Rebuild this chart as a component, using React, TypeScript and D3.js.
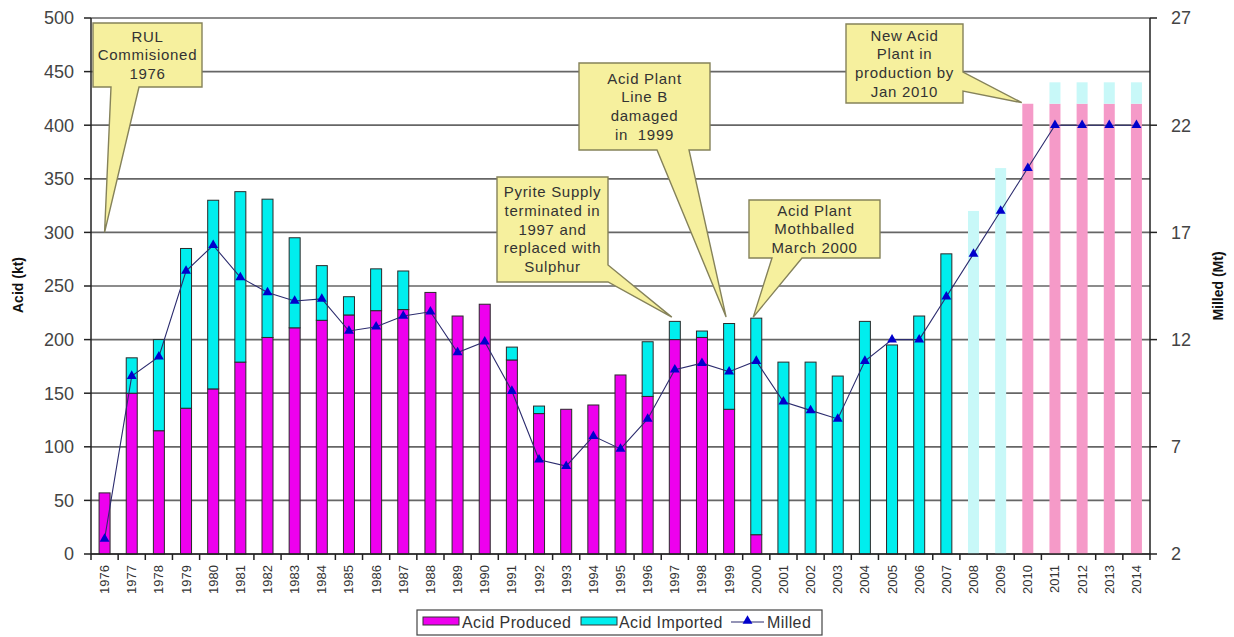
import React, { useRef, useEffect } from "react";
import * as d3 from "d3";

// categories
const years = [
  "1976", "1977", "1978", "1979", "1980", "1981", "1982", "1983", "1984", "1985",
  "1986", "1987", "1988", "1989", "1990", "1991", "1992", "1993", "1994", "1995",
  "1996", "1997", "1998", "1999", "2000", "2001", "2002", "2003", "2004", "2005",
  "2006", "2007", "2008", "2009", "2010", "2011", "2012", "2013", "2014"
];
// first projected year (drawn pale)
const forecastFrom = "2008";

// Acid produced (kt)
const produced = [
  57, 150, 115, 136, 154, 179, 202, 211, 218, 223,
  227, 228, 244, 222, 233, 181, 131, 135, 139, 167,
  147, 200, 202, 135, 18, 0, 0, 0, 0, 0,
  0, 0, 0, 0, 420, 420, 420, 420, 420
];
// Acid imported (kt), stacked on top of produced
const imported = [
  0, 33, 85, 149, 176, 159, 129, 84, 51, 17,
  39, 36, 0, 0, 0, 12, 7, 0, 0, 0,
  51, 17, 6, 80, 202, 179, 179, 166, 217, 195,
  222, 280, 320, 360, 0, 20, 20, 20, 20
];
// Milled (Mt), right axis
const milled = [
  2.7, 10.3, 11.2, 15.2, 16.4, 14.9, 14.2, 13.8, 13.9, 12.4,
  12.6, 13.1, 13.3, 11.4, 11.9, 9.6, 6.4, 6.1, 7.5, 6.9,
  8.3, 10.6, 10.9, 10.5, 11.0, 9.1, 8.7, 8.3, 11.0, 12.0,
  12.0, 14.0, 16.0, 18.0, 20.0, 22, 22, 22, 22
];

const acidTicks = [0, 50, 100, 150, 200, 250, 300, 350, 400, 450, 500];
const milledTicks = [2, 7, 12, 17, 22, 27];

// callouts: text lines, box, which side the pointer leaves from, and the data point it points at
interface Callout {
  lines: string[];
  box: [number, number, number, number]; // x, y, w, h
  side: "bottom" | "right";
  base: [number, number];
  year: string;
  value: number;
  dx?: number;
}
const callouts: Callout[] = [
  { lines: ["RUL", "Commisioned", "1976"], box: [93, 23, 109, 64], side: "bottom", base: [111, 139], year: "1976", value: 300 },
  { lines: ["Acid Plant", "Line B", "damaged", "in  1999"], box: [579, 63, 131, 87], side: "bottom", base: [657, 689], year: "1999", value: 221, dx: -3 },
  { lines: ["Pyrite Supply", "terminated in", "1997 and", "replaced with", "Sulphur"], box: [497, 177, 111, 105], side: "right", base: [265, 282], year: "1997", value: 221, dx: -3 },
  { lines: ["Acid Plant", "Mothballed", "March 2000"], box: [749, 200, 131, 58], side: "bottom", base: [772, 802], year: "2000", value: 221, dx: -3 },
  { lines: ["New Acid", "Plant in", "production by", "Jan 2010"], box: [846, 24, 117, 79], side: "right", base: [72, 91], year: "2010", value: 421, dx: -6 }
];

const FONT = "Arial, 'Liberation Sans', sans-serif";

const App = () => {
  const node: any = useRef();

  useEffect(() => {
    const width = 1234,
      height = 637;
    const left = 91,
      right = 1150,
      top = 18,
      bottom = 554;

    const svg = d3.select(node.current).attr("width", width).attr("height", height);
    svg.selectAll("*").remove();

    const x = d3.scaleBand().domain(years).range([left, right]).padding(0);
    const y = d3.scaleLinear().domain([0, 500]).range([bottom, top]);
    const y2 = d3.scaleLinear().domain([2, 27]).range([bottom, top]);
    const barW = 11;
    const cx = (yr: string) => (x(yr) as number) + x.bandwidth() / 2;

    // grid
    svg
      .append("g")
      .selectAll("line")
      .data(acidTicks)
      .enter()
      .append("line")
      .attr("x1", left)
      .attr("x2", right)
      .attr("y1", d => y(d))
      .attr("y2", d => y(d))
      .attr("stroke", "#666")
      .attr("stroke-width", 1.7);

    // bars
    const rows = years.map((yr, i) => ({
      yr,
      p: produced[i],
      m: imported[i],
      forecast: +yr >= +forecastFrom
    }));
    const bars = svg.append("g");
    rows.forEach(r => {
      const bx = cx(r.yr) - barW / 2;
      if (r.p > 0) {
        bars
          .append("rect")
          .attr("x", bx)
          .attr("y", y(r.p))
          .attr("width", barW)
          .attr("height", y(0) - y(r.p))
          .attr("fill", r.forecast ? "#f59ac8" : "#ee00ee")
          .attr("stroke", r.forecast ? "none" : "#2a2a2a")
          .attr("stroke-width", 1);
      }
      if (r.m > 0) {
        bars
          .append("rect")
          .attr("x", bx)
          .attr("y", y(r.p + r.m))
          .attr("width", barW)
          .attr("height", y(r.p) - y(r.p + r.m))
          .attr("fill", r.forecast ? "#c8f8f8" : "#00eeee")
          .attr("stroke", r.forecast ? "none" : "#2a2a2a")
          .attr("stroke-width", 1);
      }
    });

    // milled line
    const line = d3
      .line<number>()
      .x((_, i) => cx(years[i]))
      .y(d => y2(d));
    svg
      .append("path")
      .attr("d", line(milled) as string)
      .attr("fill", "none")
      .attr("stroke", "#2b2b6e")
      .attr("stroke-width", 1.1);
    const tri = d3.symbol().type(d3.symbolTriangle).size(42);
    svg
      .append("g")
      .selectAll("path")
      .data(milled)
      .enter()
      .append("path")
      .attr("d", tri() as string)
      .attr("transform", (d, i) => `translate(${cx(years[i])},${y2(d)})`)
      .attr("fill", "#0000cc");

    // axes
    const ax = svg.append("g").attr("stroke", "#222").attr("stroke-width", 1.5);
    ax.append("line").attr("x1", left).attr("x2", left).attr("y1", top).attr("y2", bottom);
    ax.append("line").attr("x1", right).attr("x2", right).attr("y1", top).attr("y2", bottom);
    ax.append("line").attr("x1", left).attr("x2", right).attr("y1", bottom).attr("y2", bottom);
    acidTicks.forEach(t => {
      ax.append("line").attr("x1", left - 7).attr("x2", left).attr("y1", y(t)).attr("y2", y(t));
    });
    milledTicks.forEach(t => {
      ax.append("line").attr("x1", right).attr("x2", right + 7).attr("y1", y2(t)).attr("y2", y2(t));
    });
    years.concat(["end"]).forEach((yr, i) => {
      const xx = left + i * x.bandwidth();
      ax.append("line").attr("x1", xx).attr("x2", xx).attr("y1", bottom).attr("y2", bottom + 6);
    });

    const labels = svg.append("g").attr("font-family", FONT);
    labels
      .selectAll(".yl")
      .data(acidTicks)
      .enter()
      .append("text")
      .attr("x", 74)
      .attr("y", d => y(d))
      .attr("dy", "0.35em")
      .attr("text-anchor", "end")
      .attr("font-size", 18)
      .attr("fill", "#444")
      .text(d => d);
    labels
      .selectAll(".yr")
      .data(milledTicks)
      .enter()
      .append("text")
      .attr("x", 1171)
      .attr("y", d => y2(d))
      .attr("dy", "0.35em")
      .attr("font-size", 18)
      .attr("fill", "#444")
      .text(d => d);
    labels
      .selectAll(".xl")
      .data(years)
      .enter()
      .append("text")
      .attr("transform", d => `translate(${cx(d) + 4.5},${bottom + 11}) rotate(-90)`)
      .attr("text-anchor", "end")
      .attr("font-size", 13)
      .attr("fill", "#333")
      .text(d => d);
    labels
      .append("text")
      .attr("transform", `translate(23,285) rotate(-90)`)
      .attr("text-anchor", "middle")
      .attr("font-size", 14)
      .attr("font-weight", "bold")
      .attr("fill", "#111")
      .text("Acid (kt)");
    labels
      .append("text")
      .attr("transform", `translate(1223,286) rotate(-90)`)
      .attr("text-anchor", "middle")
      .attr("font-size", 14)
      .attr("font-weight", "bold")
      .attr("fill", "#111")
      .text("Milled (Mt)");

    // callouts
    const cg = svg.append("g").attr("font-family", FONT);
    callouts.forEach(c => {
      const [bx, by, bw, bh] = c.box;
      const tx = cx(c.year) + (c.dx || 0);
      const ty = y(c.value);
      let d = "";
      if (c.side === "bottom") {
        d = `M${bx},${by}H${bx + bw}V${by + bh}H${c.base[1]}L${tx},${ty}L${c.base[0]},${by + bh}H${bx}Z`;
      } else {
        d = `M${bx},${by}H${bx + bw}V${c.base[0]}L${tx},${ty}L${bx + bw},${c.base[1]}V${by + bh}H${bx}Z`;
      }
      cg.append("path")
        .attr("d", d)
        .attr("fill", "#f6f09e")
        .attr("stroke", "#85825a")
        .attr("stroke-width", 1.4)
        .attr("stroke-linejoin", "miter");
      const n = c.lines.length;
      const lh = 18.7;
      const midY = by + bh / 2 - ((n - 1) * lh) / 2;
      c.lines.forEach((t, i) => {
        cg.append("text")
          .attr("x", bx + bw / 2)
          .attr("y", midY + i * lh)
          .attr("dy", "0.35em")
          .attr("text-anchor", "middle")
          .attr("font-size", 15)
          .attr("letter-spacing", 0.7)
          .attr("fill", "#333")
          .style("white-space", "pre")
          .text(t);
      });
    });

    // legend
    const lg = svg.append("g").attr("font-family", FONT);
    lg.append("rect")
      .attr("x", 417)
      .attr("y", 610)
      .attr("width", 405)
      .attr("height", 25)
      .attr("fill", "#fff")
      .attr("stroke", "#444")
      .attr("stroke-width", 1.2);
    const legendItems = [
      { label: "Acid Produced", color: "#ee00ee", sx: 423, tx: 462 },
      { label: "Acid Imported", color: "#00eeee", sx: 581, tx: 619 }
    ];
    legendItems.forEach(it => {
      lg.append("rect")
        .attr("x", it.sx)
        .attr("y", 617)
        .attr("width", 36)
        .attr("height", 8)
        .attr("fill", it.color)
        .attr("stroke", "#333")
        .attr("stroke-width", 1);
      lg.append("text")
        .attr("x", it.tx)
        .attr("y", 628)
        .attr("font-size", 16)
        .attr("letter-spacing", 0.4)
        .attr("fill", "#333")
        .text(it.label);
    });
    lg.append("line")
      .attr("x1", 731)
      .attr("x2", 764)
      .attr("y1", 622)
      .attr("y2", 622)
      .attr("stroke", "#2b2b6e")
      .attr("stroke-width", 1.1);
    lg.append("path")
      .attr("d", tri() as string)
      .attr("transform", "translate(747.5,621)")
      .attr("fill", "#0000cc");
    lg.append("text")
      .attr("x", 767)
      .attr("y", 628)
      .attr("font-size", 16)
      .attr("letter-spacing", 0.4)
      .attr("fill", "#333")
      .text("Milled");
  }, []);

  return (
    <div style={{ position: "absolute", left: 0, top: 0, background: "#fff" }}>
      <svg ref={node}></svg>
    </div>
  );
};

export default App;
